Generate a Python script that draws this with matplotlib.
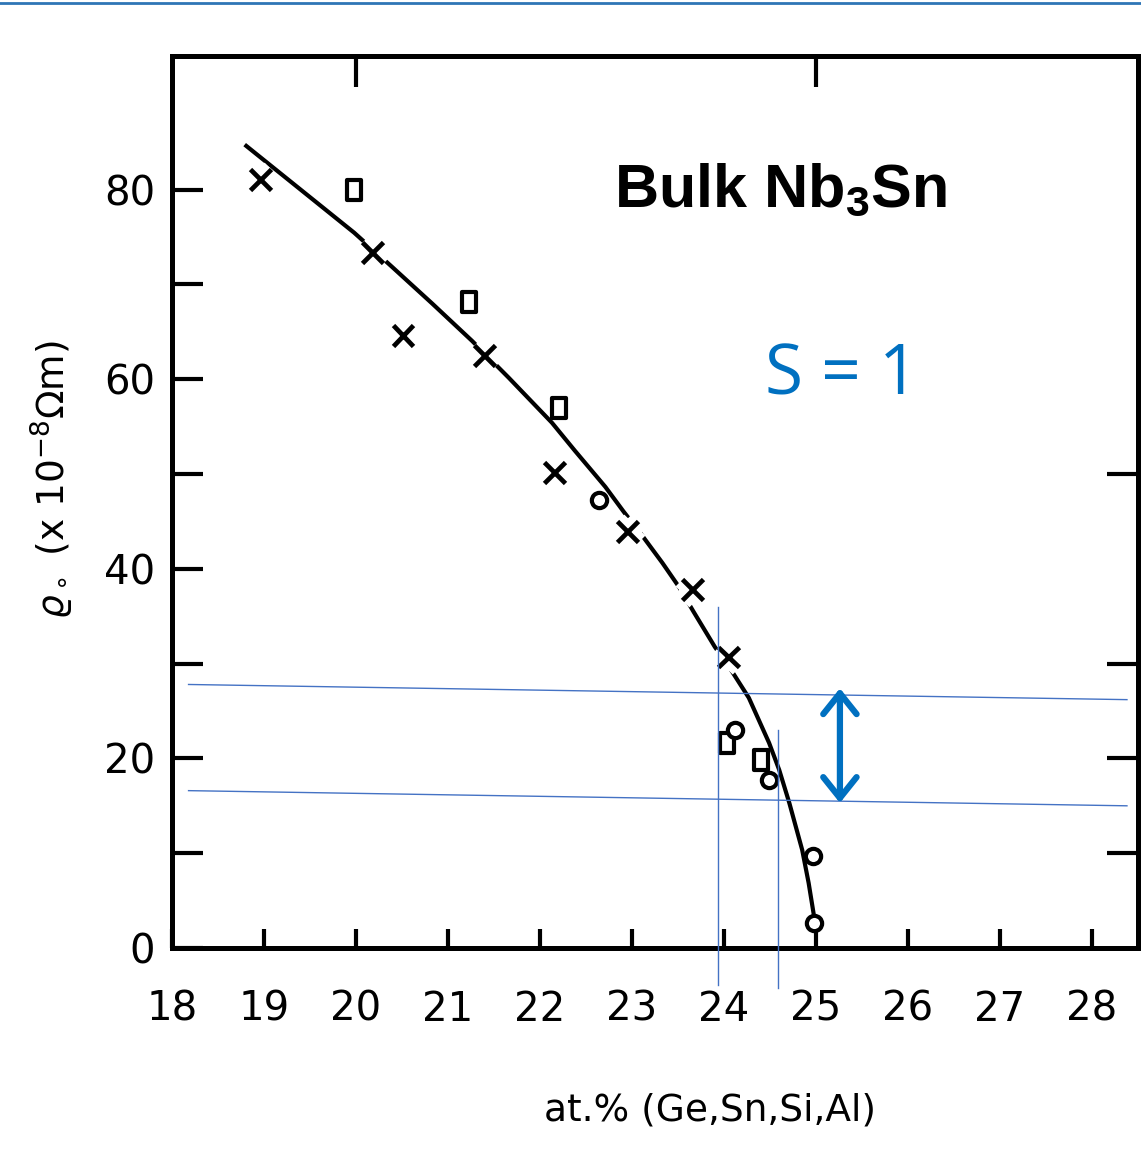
import matplotlib
matplotlib.use("Agg")
import matplotlib.pyplot as plt
import matplotlib.patheffects as pe
from matplotlib.path import Path
from matplotlib.lines import Line2D

plt.rcParams['font.family'] = ['DejaVu Sans']
plt.rcParams['mathtext.fontset'] = 'dejavusans'

# ---- data ----
cross_x = [18.96, 20.18, 20.51, 21.40, 22.16, 22.95, 23.66, 24.05]
cross_y = [81.1, 73.4, 64.6, 62.5, 50.2, 43.9, 37.8, 30.7]

square_x = [19.98, 21.23, 22.21, 24.03, 24.40]
square_y = [80.0, 68.2, 57.0, 21.6, 19.8]

circle_x = [22.64, 24.12, 24.49, 24.97, 24.98]
circle_y = [47.3, 23.0, 17.7, 9.7, 2.6]

curve_x = [18.79, 19.98, 20.39, 20.83, 21.26, 21.66, 22.13, 22.38, 22.71, 22.91,
           23.08, 23.33, 23.51, 23.67, 23.90, 24.09, 24.27, 24.49, 24.60, 24.71,
           24.85, 24.92, 24.98]
curve_y = [84.75, 75.46, 71.87, 67.97, 64.06, 60.16, 55.41, 52.45, 48.65, 46.02,
           43.91, 40.63, 38.10, 35.46, 31.77, 29.13, 26.39, 21.64, 18.79, 15.30,
           10.34, 6.86, 3.27]

hline1_x = [18.18, 28.38]
hline1_y = [27.8, 26.2]
hline2_x = [18.18, 28.38]
hline2_y = [16.6, 15.0]
vline1_x = [23.93, 23.93]
vline1_y = [36.0, -3.9]
vline2_x = [24.59, 24.59]
vline2_y = [23.0, -4.2]
arrow_x = 25.26
arrow_y = [27.4, 15.3]

xticks = [18, 19, 20, 21, 22, 23, 24, 25, 26, 27, 28]
yticks = [0, 20, 40, 60, 80]
yminor = [10, 30, 50, 70]

BLUE = '#0070C0'
LBLUE = '#4472C4'

plt.rcParams['mathtext.bf'] = 'Liberation Sans:bold'
plt.rcParams['mathtext.rm'] = 'Liberation Sans'

fig = plt.figure(figsize=(11.41, 11.51), dpi=100)
ax = fig.add_axes([172/1141, 1 - 948/1151, 966/1141, (948 - 56)/1151])
ax.set_xlim(18, 28.5)
ax.set_ylim(0, 94.1)

for s in ax.spines.values():
    s.set_linewidth(3.6)

ax.set_xticks(xticks)
ax.set_xticklabels([str(t) for t in xticks])
ax.set_yticks(yticks)
ax.set_yticklabels([str(t) for t in yticks])
ax.set_yticks(yminor, minor=True)
ax.tick_params(axis='x', which='major', direction='in', length=14, width=3,
               labelsize=29, pad=30, top=False)
ax.tick_params(axis='y', which='major', direction='in', length=22, width=3,
               labelsize=29, pad=12)
ax.tick_params(axis='y', which='minor', direction='in', length=22, width=3)

# top / right ticks
sec_top = ax.secondary_xaxis('top')
sec_top.set_xticks([20, 25])
sec_top.set_xticklabels([])
sec_top.tick_params(direction='in', length=22, width=3)
sec_top.spines['top'].set_linewidth(3.6)
sec_r = ax.secondary_yaxis('right')
sec_r.set_yticks([10, 20, 30, 50])
sec_r.set_yticklabels([])
sec_r.tick_params(direction='in', length=22, width=3)
sec_r.spines['right'].set_linewidth(3.6)

# curve
ax.plot(curve_x, curve_y, color='black', lw=3, solid_capstyle='butt',
        solid_joinstyle='round', zorder=2)

# markers
halo = [pe.Stroke(linewidth=14, foreground='white'), pe.Normal()]
ax.plot(cross_x, cross_y, ls='none', marker='x', ms=15, mew=3.4, color='black',
        zorder=3, path_effects=halo)
rect = Path([(-0.32, -0.5), (0.32, -0.5), (0.32, 0.5), (-0.32, 0.5), (-0.32, -0.5)],
            [Path.MOVETO, Path.LINETO, Path.LINETO, Path.LINETO, Path.CLOSEPOLY])
ax.plot(square_x, square_y, ls='none', marker=rect, ms=15, mew=3, mfc='white',
        mec='black', zorder=3)
ax.plot(circle_x, circle_y, ls='none', marker='o', ms=11, mew=3, mfc='white',
        mec='black', zorder=3)

# blue annotation lines
ax.plot(hline1_x, hline1_y, color=LBLUE, lw=1, zorder=4)
ax.plot(hline2_x, hline2_y, color=LBLUE, lw=1, zorder=4)
ax.plot(vline1_x, vline1_y, color=LBLUE, lw=1, zorder=4, clip_on=False)
ax.plot(vline2_x, vline2_y, color=LBLUE, lw=1, zorder=4, clip_on=False)
ax.annotate('', xy=(arrow_x, arrow_y[0]), xytext=(arrow_x, arrow_y[1]),
            arrowprops=dict(arrowstyle='<->,head_length=1.5,head_width=1.2',
                            color=BLUE, lw=4.5, shrinkA=0, shrinkB=0), zorder=5)

# texts
ax.text(24.62, 79.8, r'Bulk Nb$_\mathbf{3}$Sn', fontsize=44, fontweight='bold',
        family=['Liberation Sans', 'DejaVu Sans'], ha='center', va='center',
        math_fontfamily='custom')
ax.text(25.28, 60.3, 'S = 1', fontsize=50, color=BLUE,
        family=['Open Sans', 'DejaVu Sans'], ha='center', va='center')

fig.text(710/1141, 1 - 1110/1151, 'at.% (Ge,Sn,Si,Al)', fontsize=27,
         ha='center', va='center')
fig.text(52/1141, 1 - 480/1151, r'$\varrho_\circ$ (x 10$^{-8}$$\Omega$m)',
         fontsize=27, rotation=90, ha='center', va='center',
         math_fontfamily='dejavusans')

# blue rule at top of slide
fig.add_artist(Line2D([0, 1], [1 - 3/1151, 1 - 3/1151], color='#2E75B6', lw=2,
                      transform=fig.transFigure))

fig.savefig('out.png', dpi=100)
